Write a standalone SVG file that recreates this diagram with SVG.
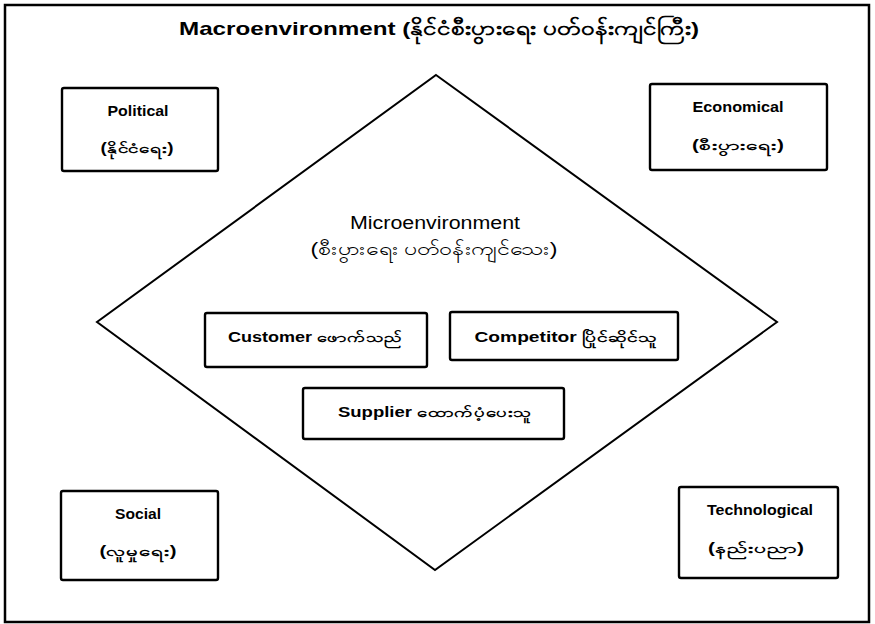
<svg xmlns="http://www.w3.org/2000/svg" width="875" height="624" viewBox="0 0 875 624">
<style>
  .box { fill: #fff; stroke: #000; stroke-width: 2.4; }
  .t { font-family: "Liberation Sans", "Noto Sans", sans-serif; fill: #000; text-anchor: middle; dominant-baseline: central; }
  .b { font-weight: bold; font-size: 14px; }
  .title { font-weight: bold; font-size: 19px; }
  .micro { font-size: 18px; }
</style>
<rect x="0" y="0" width="875" height="624" fill="#fff"/>
<g id="macro">
  <rect x="5" y="5" width="864" height="617" fill="none" stroke="#000" stroke-width="2.5"/>
  <text class="t title" x="439" y="28" textLength="520" lengthAdjust="spacingAndGlyphs">Macroenvironment (နိုင်ငံစီးပွားရေး ပတ်ဝန်းကျင်ကြီး)</text>
</g>
<g id="connectors">
  <polygon points="436,75 777,322 435,570 97,322" fill="none" stroke="#000" stroke-width="2"/>
</g>
<g id="micro">
  <text class="t micro" x="435" y="223" textLength="170" lengthAdjust="spacingAndGlyphs">Microenvironment</text>
  <text class="t micro" x="434" y="249" textLength="247" lengthAdjust="spacingAndGlyphs">(စီးပွားရေး ပတ်ဝန်းကျင်သေး)</text>
</g>
<g id="political">
  <rect class="box" x="62" y="88" width="156" height="83" rx="2"/>
  <text class="t b" x="138" y="111" textLength="61" lengthAdjust="spacingAndGlyphs">Political</text>
  <text class="t b" x="137" y="148" textLength="73" lengthAdjust="spacingAndGlyphs">(နိုင်ငံရေး)</text>
</g>
<g id="economical">
  <rect class="box" x="650" y="84" width="177" height="86" rx="2"/>
  <text class="t b" x="738" y="107" textLength="91" lengthAdjust="spacingAndGlyphs">Economical</text>
  <text class="t b" x="738" y="145" textLength="92" lengthAdjust="spacingAndGlyphs">(စီးပွားရေး)</text>
</g>
<g id="social">
  <rect class="box" x="61" y="491" width="157" height="89" rx="2"/>
  <text class="t b" x="138" y="514" textLength="46" lengthAdjust="spacingAndGlyphs">Social</text>
  <text class="t b" x="138" y="551" textLength="77" lengthAdjust="spacingAndGlyphs">(လူမှုရေး)</text>
</g>
<g id="technological">
  <rect class="box" x="679" y="487" width="159" height="91" rx="2"/>
  <text class="t b" x="760" y="510" textLength="106" lengthAdjust="spacingAndGlyphs">Technological</text>
  <text class="t b" x="756" y="548" textLength="96" lengthAdjust="spacingAndGlyphs">(နည်းပညာ)</text>
</g>
<g id="customer">
  <rect class="box" x="205" y="313" width="222" height="54" rx="2"/>
  <text class="t b" x="315" y="337" textLength="174" lengthAdjust="spacingAndGlyphs">Customer ဖောက်သည်</text>
</g>
<g id="competitor">
  <rect class="box" x="450" y="312" width="228" height="48" rx="2"/>
  <text class="t b" x="566" y="337" textLength="183" lengthAdjust="spacingAndGlyphs">Competitor ပြိုင်ဆိုင်သူ</text>
</g>
<g id="supplier">
  <rect class="box" x="303" y="388" width="261" height="51" rx="2"/>
  <text class="t b" x="435" y="412" textLength="194" lengthAdjust="spacingAndGlyphs">Supplier ထောက်ပံ့ပေးသူ</text>
</g>
</svg>
